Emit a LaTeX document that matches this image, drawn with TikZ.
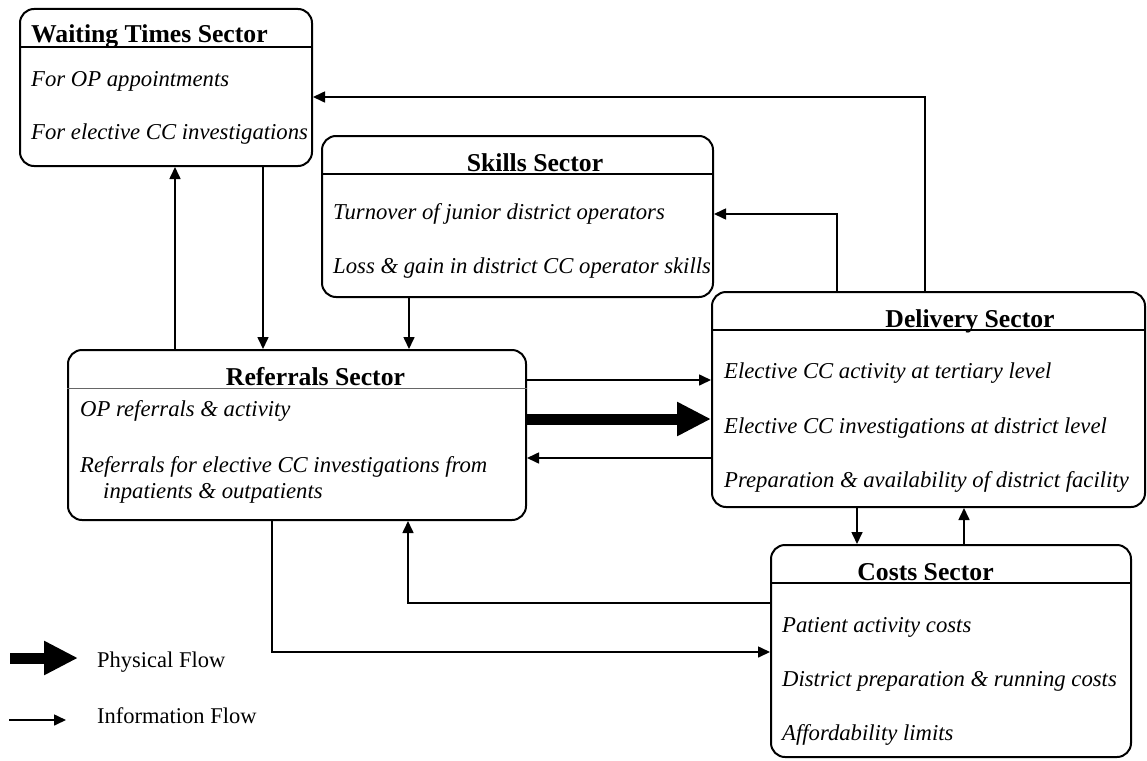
\documentclass[tikz,border=0pt]{standalone}
\usepackage{fontspec}
\setmainfont{Liberation Serif}
\usetikzlibrary{arrows.meta}
\tikzset{
  box/.style={draw, line width=2pt, rounded corners=14pt, inner sep=0pt},
  ttl/.style={font=\fontsize{25.7}{30}\selectfont\bfseries, inner sep=0pt, anchor=base},
  ttlw/.style={font=\fontsize{25.7}{30}\selectfont\bfseries, inner sep=0pt, anchor=base west},
  itm/.style={font=\fontsize{22.7}{27}\selectfont\itshape, inner sep=0pt, anchor=base west},
  leg/.style={font=\fontsize{22.5}{27}\selectfont, inner sep=0pt, anchor=base west},
  hdr/.style={line width=1.7pt},
  info/.style={line width=1.6pt, -{Triangle[length=12pt,width=11pt]}},
  phys/.style={line width=11pt, -{Triangle[length=34pt,width=32pt]}},
}
\begin{document}
\begin{tikzpicture}[x=1pt,y=-1pt]
\useasboundingbox (0,0) rectangle (1147,760);

% boxes
\node[box, minimum width=292pt, minimum height=157pt] (wt) at (166,87.5) {};
\node[box, minimum width=391pt, minimum height=161pt] (sk) at (517.5,216.5) {};
\node[box, minimum width=433pt, minimum height=215pt] (dl) at (928.5,399.5) {};
\node[box, minimum width=458pt, minimum height=170pt] (rf) at (297,435) {};
\node[box, minimum width=360pt, minimum height=212pt] (cs) at (951,651) {};

% header lines
\draw[hdr] ([yshift=-39pt]wt.north west) -- ([yshift=-39pt]wt.north east);
\draw[hdr] ([yshift=-39pt]sk.north west) -- ([yshift=-39pt]sk.north east);
\draw[hdr] ([yshift=-39pt]dl.north west) -- ([yshift=-39pt]dl.north east);
\draw[line width=1.1pt, black!60] ([yshift=-39.5pt]rf.north west) -- ([yshift=-39.5pt]rf.north east);
\draw[hdr] ([yshift=-39pt]cs.north west) -- ([yshift=-39pt]cs.north east);

% texts
\node[ttlw] (wtt) at (31,43) {Waiting Times Sector};
\node[itm] (wti1) at (31,86) {For OP appointments};
\node[itm] (wti2) at (31,139) {For elective CC investigations};

\node[ttl] (skt) at (535,171) {Skills Sector};
\node[itm] (ski1) at (333,219) {Turnover of junior district operators};
\node[itm] (ski2) at (333,273) {Loss \& gain in district CC operator skills};

\node[ttl] (dlt) at (970,327) {Delivery Sector};
\node[itm] (dli1) at (724,378) {Elective CC activity at tertiary level};
\node[itm] (dli2) at (724,433) {Elective CC investigations at district level};
\node[itm] (dli3) at (724,487) {Preparation \& availability of district facility};

\node[ttl] (rft) at (315.5,385) {Referrals Sector};
\node[itm] (rfi1) at (80,416) {OP referrals \& activity};
\node[itm] (rfi2) at (80,472) {Referrals for elective CC investigations from};
\node[itm] (rfi3) at (103,498) {inpatients \& outpatients};

\node[ttl] (cst) at (925.5,580) {Costs Sector};
\node[itm] (csi1) at (782,632) {Patient activity costs};
\node[itm] (csi2) at (782,686) {District preparation \& running costs};
\node[itm] (csi3) at (782,740) {Affordability limits};

% connector start points
\coordinate (d1) at ([xshift=214pt]dl.north west);
\coordinate (d2) at ([xshift=126pt]dl.north west);
\coordinate (r1) at ([xshift=108pt]rf.north west);
\coordinate (w1) at ([xshift=244pt]wt.south west);
\coordinate (s1) at ([xshift=88pt]sk.south west);
\coordinate (r2) at ([yshift=55pt]rf.east);
\coordinate (r3) at ([yshift=16pt]rf.east);
\coordinate (d3) at ([yshift=-58.5pt]dl.west);
\coordinate (d4) at ([xshift=146pt]dl.south west);
\coordinate (c1) at ([xshift=194pt]cs.north west);
\coordinate (c2) at ([yshift=48pt]cs.west);
\coordinate (r4) at ([xshift=205pt]rf.south west);

% connectors
\draw[info] (d1) |- ([yshift=-9.5pt]wt.east);
\draw[info] (d2) |- ([yshift=2.5pt]sk.east);
\draw[info] (r1) -- (r1 |- wt.south);
\draw[info] (w1) -- (w1 |- rf.north);
\draw[info] (s1) -- (s1 |- rf.north);
\draw[info] (r2) -- (r2 -| dl.west);
\draw[phys] (r3) -- (r3 -| dl.west);
\draw[info] (d3) -- (d3 -| rf.east);
\draw[info] (d4) -- (d4 |- cs.north);
\draw[info] (c1) -- (c1 |- dl.south);
\draw[info] (c2) -| ([xshift=341pt]rf.south west);
\draw[info] (r4) |- ([yshift=-1pt]cs.west);

% legend
\coordinate (lp0) at (10,658);
\coordinate (lp1) at (78,658);
\coordinate (li0) at (9,720);
\coordinate (li1) at (66,720);
\draw[phys] (lp0) -- (lp1);
\draw[info] (li0) -- (li1);
\node[leg] (lpt) at (97,667) {Physical Flow};
\node[leg] (lit) at (97,723) {Information Flow};
\end{tikzpicture}
\end{document}
